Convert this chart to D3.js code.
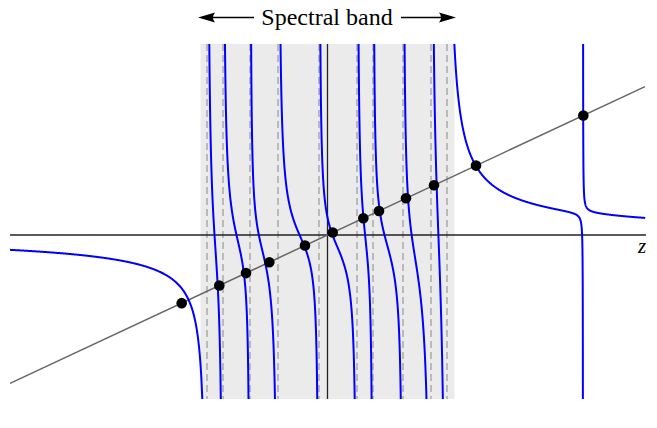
<!DOCTYPE html>
<html>
<head>
<meta charset="utf-8">
<script src="https://cdnjs.cloudflare.com/ajax/libs/d3/7.8.5/d3.min.js"></script>
<style>
  body { margin: 0; background: #fff; }
  svg { display: block; }
</style>
</head>
<body>
<div id="chart"></div>
<script>
// poles of the secular function (dashed lines inside the band) and their weights
var bandPoles = [-3.795, -3.291, -2.441, -1.559, -0.268, 0.929, 1.433, 2.378, 3.260, 3.764];
var bandWeights = [0.559, 0.379, 0.230, 0.492, 0.274, 0.336, 0.236, 0.332, 0.669, 1.018];
// isolated pole outside the band, tiny weight
var outerPoles = [8.047];
var outerWeights = [0.02];
var band = [-4, 4];
var lineSlope = 0.467;
// intersections of the curve with the straight line (z values)
var roots = [-4.592, -3.408, -2.567, -1.833, -0.709, 0.164, 1.128, 1.622, 2.472, 3.354, 4.677, 8.057];

var width = 657, height = 428;
var svg = d3.select("#chart").append("svg").attr("width", width).attr("height", height);
var x = d3.scaleLinear().domain([-10, 10]).range([10, 645]);
var y = d3.scaleLinear().domain([-5.13, 5.98]).range([398, 45]);
var plotTop = 44, plotBottom = 399;

svg.append("defs").append("clipPath").attr("id", "clip")
  .append("rect").attr("x", 10).attr("y", plotTop).attr("width", 636).attr("height", plotBottom - plotTop);

// spectral band
svg.append("rect").attr("x", x(band[0])).attr("y", plotTop)
  .attr("width", x(band[1]) - x(band[0])).attr("height", plotBottom - plotTop).attr("fill", "#ebebeb");
svg.selectAll(".pole").data(bandPoles).enter().append("line")
  .attr("x1", function(d) { return x(d); }).attr("x2", function(d) { return x(d); })
  .attr("y1", plotTop).attr("y2", plotBottom)
  .attr("stroke", "#a0a0a0").attr("stroke-width", 1.3).attr("stroke-dasharray", "7,4");

// axes
svg.append("line").attr("x1", 10).attr("x2", 646).attr("y1", y(0)).attr("y2", y(0))
  .attr("stroke", "#222").attr("stroke-width", 1.3);
svg.append("line").attr("x1", x(0)).attr("x2", x(0)).attr("y1", plotTop).attr("y2", plotBottom)
  .attr("stroke", "#222").attr("stroke-width", 1.3);
svg.append("text").attr("x", 638).attr("y", 253)
  .style("font-family", "'Liberation Serif', 'DejaVu Serif', serif").style("font-style", "italic")
  .style("font-size", "21px")
  .text("z");

// straight line
svg.append("line").attr("x1", x(-10)).attr("x2", x(10))
  .attr("y1", y(-10 * lineSlope)).attr("y2", y(10 * lineSlope))
  .attr("stroke", "#666").attr("stroke-width", 1.5);

// secular function branches
var allPoles = bandPoles.concat(outerPoles);
var allWeights = bandWeights.concat(outerWeights);
var fz = function(z) {
  var s = 0;
  allPoles.forEach(function(l, j) { s += allWeights[j] / (z - l); });
  return s;
};
var edges = [-10].concat(allPoles, [10]);
var branches = [];
for (var i = 0; i < edges.length - 1; i++) {
  var a = edges[i], b = edges[i + 1], zs = [];
  for (var k = 0; k <= 400; k++) zs.push(a + (b - a) * k / 400);
  for (var e = -7; e <= -0.5; e += 0.05) { zs.push(a + Math.pow(10, e)); zs.push(b - Math.pow(10, e)); }
  zs = zs.filter(function(z) {
    return z >= a && z <= b && (i === 0 || z > a) && (i === edges.length - 2 || z < b);
  });
  zs.sort(function(p, q) { return p - q; });
  branches.push(zs.map(function(z) { return [z, Math.max(-8, Math.min(8, fz(z)))]; }));
}
var line = d3.line().x(function(d) { return x(d[0]); }).y(function(d) { return y(d[1]); });
svg.append("g").attr("clip-path", "url(#clip)")
  .selectAll("path").data(branches).enter().append("path")
  .attr("d", line).attr("fill", "none").attr("stroke", "#0000ff").attr("stroke-width", 2);

svg.selectAll(".dot").data(roots).enter().append("circle")
  .attr("cx", function(d) { return x(d); }).attr("cy", function(d) { return y(lineSlope * d); })
  .attr("r", 5.3).attr("fill", "#000");

// title with arrows
svg.append("text").attr("x", 327).attr("y", 25).attr("text-anchor", "middle")
  .style("font-family", "Liberation Serif").style("font-size", "24px").text("Spectral band");
var ay = 17.5;
svg.append("line").attr("x1", 206).attr("x2", 254).attr("y1", ay).attr("y2", ay)
  .attr("stroke", "#000").attr("stroke-width", 1.5);
svg.append("line").attr("x1", 401).attr("x2", 448).attr("y1", ay).attr("y2", ay)
  .attr("stroke", "#000").attr("stroke-width", 1.5);
svg.append("path")
  .attr("d", "M198," + ay + " L215," + (ay - 5) + " Q211," + ay + " 215," + (ay + 5) + " Z").attr("fill", "#000");
svg.append("path")
  .attr("d", "M456," + ay + " L439," + (ay - 5) + " Q443," + ay + " 439," + (ay + 5) + " Z").attr("fill", "#000");
</script>
</body>
</html>
